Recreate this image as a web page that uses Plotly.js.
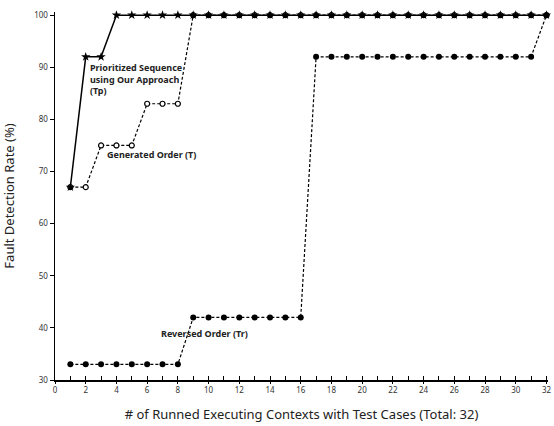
<!DOCTYPE html>
<html>
<head>
<meta charset="utf-8">
<script src="https://cdn.plot.ly/plotly-3.0.1.min.js"></script>
<style>html,body{margin:0;padding:0;background:#fff;}#chart{width:554px;height:426px;}</style>
</head>
<body>
<div id="chart"></div>
<script>
const xVals = [1,2,3,4,5,6,7,8,9,10,11,12,13,14,15,16,17,18,19,20,21,22,23,24,25,26,27,28,29,30,31,32];
const tpValues = [67,92,92,100,100,100,100,100,100,100,100,100,100,100,100,100,100,100,100,100,100,100,100,100,100,100,100,100,100,100,100,100];
const tValues  = [67,67,75,75,75,83,83,83,100,100,100,100,100,100,100,100,100,100,100,100,100,100,100,100,100,100,100,100,100,100,100,100];
const trValues = [33,33,33,33,33,33,33,33,42,42,42,42,42,42,42,42,92,92,92,92,92,92,92,92,92,92,92,92,92,92,92,100];
const xTickVals = [0,2,4,6,8,10,12,14,16,18,20,22,24,26,28,30,32];
const yTickVals = [30,40,50,60,70,80,90,100];
const labelTp = "Prioritized Sequence<br>using Our Approach<br>(Tp)";
const labelT = "Generated Order (T)";
const labelTr = "Reversed Order (Tr)";

const FONT = "Noto Sans, DejaVu Sans, sans-serif";

const traces = [
  {x: xVals, y: tValues, mode: "lines+markers", name: "T", cliponaxis: false,
   line: {color: "#000", width: 1.2, dash: "3px,2px"},
   marker: {symbol: "circle", size: 5, color: "#fff", line: {color: "#000", width: 1.2}}},
  {x: xVals, y: trValues, mode: "lines+markers", name: "Tr", cliponaxis: false,
   line: {color: "#000", width: 1.2, dash: "3px,2px"},
   marker: {symbol: "circle", size: 6, color: "#000"}},
  {x: xVals, y: tpValues, mode: "lines+markers", name: "Tp", cliponaxis: false,
   line: {color: "#000", width: 1.5},
   marker: {symbol: "star", size: 7, color: "#000"}},
  {x: [0], y: [30], xaxis: "x2", mode: "markers", marker: {opacity: 0}, hoverinfo: "skip", showlegend: false}
];

const layout = {
  width: 554, height: 426,
  margin: {l: 55, r: 6, t: 12, b: 46},
  paper_bgcolor: "#fff", plot_bgcolor: "#fff",
  showlegend: false,
  font: {family: FONT, color: "#333"},
  xaxis: {
    range: [0, 32.1], tickvals: xTickVals, ticks: "outside", ticklen: 2, tickwidth: 1,
    tickcolor: "#000", showgrid: false, zeroline: false, showline: true, linecolor: "#000", linewidth: 1.5,
    tickfont: {size: 8, color: "#333", family: FONT},
    title: {text: "# of Runned Executing Contexts with Test Cases (Total: 32)", font: {size: 13, color: "#222", family: FONT}, standoff: 16},
    automargin: false
  },
  xaxis2: {
    overlaying: "x", range: [0, 32.1], dtick: 1, tick0: 0, ticks: "inside", ticklen: 4, tickwidth: 1, tickcolor: "#000",
    showticklabels: false, showgrid: false, zeroline: false, showline: false, side: "bottom", anchor: "y"
  },
  yaxis: {
    range: [30, 100.6], tickvals: yTickVals, ticks: "outside", ticklen: 4, tickwidth: 1,
    tickcolor: "#000", showgrid: false, zeroline: false, showline: true, linecolor: "#000", linewidth: 1.5,
    tickfont: {size: 8, color: "#333", family: FONT},
    title: {text: "Fault Detection Rate (%)", font: {size: 13, color: "#222", family: FONT}, standoff: 16},
    automargin: false
  },
  annotations: [
    {x: 2.15, y: 87.7, xref: "x", yref: "y", text: "<b>" + labelTp + "</b>", showarrow: false,
     xanchor: "left", yanchor: "middle", align: "left", font: {size: 9, color: "#222", family: FONT}},
    {x: 3.25, y: 73.2, xref: "x", yref: "y", text: "<b>" + labelT + "</b>", showarrow: false,
     xanchor: "left", yanchor: "middle", align: "left", font: {size: 9, color: "#222", family: FONT}},
    {x: 6.8, y: 39.0, xref: "x", yref: "y", text: "<b>" + labelTr + "</b>", showarrow: false,
     xanchor: "left", yanchor: "middle", align: "left", font: {size: 9, color: "#222", family: FONT}}
  ]
};

Plotly.newPlot("chart", traces, layout, {displayModeBar: false, staticPlot: true});
</script>
</body>
</html>
